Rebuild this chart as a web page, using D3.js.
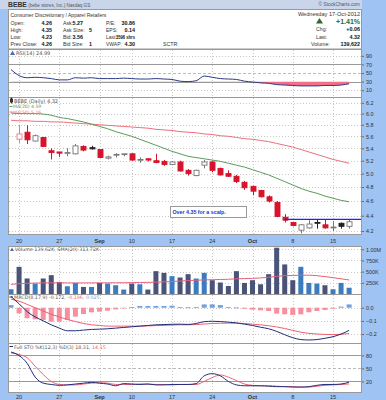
<!DOCTYPE html>
<html><head><meta charset="utf-8">
<script src="https://cdn.jsdelivr.net/npm/d3@7"></script>
<style>
body{margin:0;background:#9fc3f2}
svg{display:block;font-family:"Liberation Sans",Arial,sans-serif}
.lg{font-family:"DejaVu Sans",Verdana,sans-serif}
</style>
</head><body>
<script>
// BEBE daily, 17-Aug-2012 .. 17-Oct-2012 (first day is off the top of the price panel)
var open  = [6.45, 5.55,5.67,5.52,5.58,5.36,5.34,5.32,5.31,5.43,5.41, 5.38,5.24,5.29,5.31,5.31,5.21,5.23,5.20,5.19,5.14, 5.18,5.05,4.97,5.13,5.18,5.08,5.00,4.96,4.87,4.81, 4.75,4.66,4.58,4.38,4.31,4.21,4.24,4.31,4.28,4.24, 4.30,4.26];
var high  = [6.60, 5.80,5.79,5.63,5.59,5.40,5.34,5.40,5.47,5.45,5.44, 5.38,5.28,5.32,5.31,5.32,5.25,5.24,5.31,5.21,5.19, 5.20,5.07,5.06,5.21,5.20,5.09,5.05,4.98,4.89,4.82, 4.76,4.68,4.60,4.42,4.31,4.29,4.34,4.35,4.35,4.33, 4.31,4.35];
var low   = [6.38, 5.49,5.47,5.51,5.42,5.22,5.26,5.27,5.30,5.35,5.38, 5.24,5.22,5.25,5.27,5.20,5.17,5.19,5.16,5.12,5.13, 5.03,4.97,4.96,5.08,5.02,4.97,4.95,4.86,4.76,4.68, 4.65,4.58,4.38,4.31,4.26,4.17,4.23,4.23,4.23,4.20, 4.23,4.23];
var close = [6.50, 5.64,5.54,5.61,5.43,5.33,5.32,5.33,5.44,5.37,5.39, 5.25,5.26,5.30,5.31,5.21,5.22,5.21,5.17,5.14,5.18, 5.04,5.00,5.05,5.18,5.05,4.98,4.96,4.88,4.79,4.74, 4.66,4.60,4.39,4.34,4.27,4.28,4.29,4.30,4.24,4.25, 4.26,4.32];
var ma20  = [6.01, 6.00,6.00,6.00,5.99,5.97,5.93,5.91,5.88,5.85,5.81, 5.77,5.73,5.68,5.64,5.60,5.55,5.50,5.45,5.40,5.35, 5.31,5.27,5.25,5.23,5.21,5.19,5.16,5.13,5.10,5.06, 5.02,4.98,4.93,4.88,4.83,4.78,4.74,4.71,4.67,4.64, 4.61,4.59];
var ma50  = [5.88, 5.87,5.87,5.86,5.86,5.85,5.85,5.84,5.83,5.82,5.81, 5.80,5.79,5.78,5.77,5.76,5.75,5.74,5.72,5.71,5.70, 5.68,5.67,5.66,5.64,5.63,5.61,5.60,5.58,5.56,5.55, 5.53,5.51,5.48,5.45,5.42,5.38,5.34,5.30,5.26,5.22, 5.19,5.16];
var volume = [106, 608,347,234,347,421,270,173,248,158,158, 248,234,196,99,234,218,99,511,473,399, 369,444,347,473,309,257,180,511,248,309, 218,444,1036,662,309,608,248,234,196,106, 248,140];
var volSma = [215, 230,240,245,248,250,250,248,248,248,248, 250,250,250,252,255,258,260,265,272,280, 290,300,308,315,320,325,330,340,345,350, 360,375,395,410,415,420,420,410,390,365, 340,314];
var rsi   = [58, 44,39,40,39,37,34,34,39,38,39, 37,37,37,38,37,36,36,37,36,35, 31,30,32,43,40,37,36,35,31,29, 27,26,23,22,21,20,20,20,21,21, 22,24.99];
var macd  = [0.085, 0.03,-0.03,-0.07,-0.10,-0.13,-0.155,-0.175,-0.175,-0.17,-0.165, -0.163,-0.16,-0.155,-0.15,-0.145,-0.14,-0.135,-0.13,-0.128,-0.126, -0.125,-0.127,-0.12,-0.106,-0.103,-0.105,-0.11,-0.115,-0.125,-0.135, -0.148,-0.16,-0.18,-0.205,-0.228,-0.242,-0.245,-0.242,-0.232,-0.22, -0.20,-0.172];
var signal = [0.065, 0.05,0.025,0.0,-0.025,-0.05,-0.07,-0.09,-0.105,-0.12,-0.13, -0.135,-0.14,-0.14,-0.14,-0.14,-0.14,-0.138,-0.136,-0.134,-0.132, -0.13,-0.13,-0.128,-0.124,-0.12,-0.118,-0.117,-0.118,-0.12,-0.125, -0.13,-0.137,-0.146,-0.158,-0.172,-0.186,-0.195,-0.20,-0.203,-0.204, -0.202,-0.196];
var hist  = [0.02, -0.043,-0.08,-0.088,-0.093,-0.106,-0.106,-0.093,-0.068,-0.048,-0.035, -0.03,-0.023,-0.013,-0.005,0.005,0.013,0.013,0.013,0.013,0.015, 0.005,0.003,0.005,0.025,0.025,0.02,0.005,0.002,-0.008,-0.015, -0.02,-0.025,-0.045,-0.05,-0.055,-0.05,-0.035,-0.025,-0.018,-0.008, 0.008,0.025];
var stoK  = [88, 80,62,30,16,13,11,12,14,16,18, 16,14,10,15,14,13,14,12,12,13, 13,13,15,33,38,33,20,12,10,10, 10,9,8,8,7,7,8,11,13,13, 14,18.31];
var stoD  = [86, 82,75,55,36,20,13,12,12,14,16, 17,16,13,13,13,14,14,13,13,12, 13,13,13,20,29,35,30,22,14,11, 10,10,9,8,8,7,7,9,11,12, 13,14.15];

var tickIdx = [0, 5, 10, 14, 19, 24, 29, 34, 39];
var tickLabels = ["20", "27", "Sep", "10", "17", "24", "Oct", "8", "15"];
var scalpLevel = 4.35;

var days = d3.range(-1, 42);
var L = 8, R = 362;
var x = d3.scaleLinear().domain([-1.375, 42.6]).range([L, R]);

var svg = d3.select('body').append('svg').attr('width', 386).attr('height', 400);
svg.append('rect').attr('width', 386).attr('height', 400).attr('fill', '#9fc3f2');
svg.append('rect').attr('width', R).attr('height', 9).attr('fill', '#c9d5ea');

var txt = '#333';
function label(g, px, py, s, o) {
  o = o || {};
  return g.append('text').attr('x', px).attr('y', py).text(s)
    .attr('class', o.cls || null)
    .attr('font-size', o.size || 5.4).attr('fill', o.fill || txt)
    .attr('font-weight', o.bold ? 'bold' : null)
    .attr('text-anchor', o.anchor || null);
}

// title bar + header box
var t = svg.append('text').attr('x', 8).attr('y', 7).attr('fill', '#333');
t.append('tspan').text('BEBE').attr('font-weight', 'bold').attr('font-size', 6.8);
t.append('tspan').text(' (bebe stores, Inc.) Nasdaq GS').attr('font-size', 4.6).attr('fill', '#555');
label(svg, 360, 6.3, '© StockCharts.com', {anchor: 'end', size: 4.8, fill: '#556'});

svg.append('rect').attr('x', L + 0.5).attr('y', 9.5).attr('width', R - L - 1).attr('height', 39.5)
  .attr('fill', '#fff').attr('stroke', '#999');
label(svg, 10.5, 16.5, 'Consumer Discretionary / Apparel Retailers', {size: 5.0});
var hdr = [
  ['Open:', '4.26', 'Ask:', '5.27', 72.5, 'P/E:', '30.86'],
  ['High:', '4.35', 'Ask Size:', '5', 89, 'EPS:', '0.14'],
  ['Low:', '4.23', 'Bid:', '3.56', 72.5, 'Last:', '3596 shrs'],
  ['Prev Close:', '4.26', 'Bid Size:', '1', 89, 'VWAP:', '4.30']
];
hdr.forEach(function(r, i) {
  var yy = 24.5 + i * 7.3;
  label(svg, 10.5, yy, r[0], {size: 5.2});
  label(svg, 52, yy, r[1], {size: 5.4, bold: true, anchor: 'end', fill: '#111'});
  label(svg, 63, yy, r[2], {size: 5.2});
  label(svg, r[4], yy, r[3], {size: 5.4, bold: true, fill: '#111'});
  label(svg, 106, yy, r[5], {size: 5.0});
  var v = label(svg, 135, yy, r[6], {size: 5.4, bold: true, anchor: 'end', fill: '#111'});
  if (r[6].length > 6) v.attr('textLength', 19).attr('lengthAdjust', 'spacingAndGlyphs');
});
label(svg, 163, 24.5 + 3 * 7.3, 'SCTR:', {size: 5.2});
label(svg, 360, 15.5, 'Wednesday  17-Oct-2012', {size: 5.6, anchor: 'end'});
svg.append('path').attr('d', 'M316,23.5 L319.5,18 L323,23.5 Z').attr('fill', '#2b6e2b');
label(svg, 360, 23.5, '+1.41%', {size: 7, bold: true, anchor: 'end', fill: '#2b6e2b'});
label(svg, 316, 31, 'Chg:', {size: 5.2});
label(svg, 360, 31, '+0.06', {size: 5.4, bold: true, anchor: 'end', fill: '#111'});
label(svg, 316, 38.5, 'Last:', {size: 5.2});
label(svg, 360, 38.5, '4.32', {size: 5.4, bold: true, anchor: 'end', fill: '#111'});
label(svg, 311, 46, 'Volume:', {size: 5.2});
label(svg, 360, 46, '139,622', {size: 5.4, bold: true, anchor: 'end', fill: '#111'});

// panel helper
var clipN = 0;
function rightAxis(yScale, vals, fmt) {
  var ax = svg.append('g').attr('transform', 'translate(' + R + ',0)')
    .call(d3.axisRight(yScale).tickValues(vals).tickSize(2).tickPadding(2).tickFormat(fmt));
  ax.attr('font-size', 5.4).attr('font-family', null);
  ax.select('.domain').remove();
  ax.selectAll('line').attr('stroke', '#666');
  ax.selectAll('text').attr('fill', '#333');
}
function panel(y0, y1, yScale, gridVals, fmt) {
  var g = svg.append('g');
  g.append('rect').attr('x', L + 0.5).attr('y', y0 + 0.5).attr('width', R - L - 1).attr('height', y1 - y0)
    .attr('fill', '#fff').attr('stroke', '#999');
  var id = 'c' + (clipN++);
  svg.append('clipPath').attr('id', id).append('rect')
    .attr('x', L + 1).attr('y', y0 + 1).attr('width', R - L - 2).attr('height', y1 - y0 - 1);
  tickIdx.forEach(function(d) {
    var xx = Math.round(x(d)) + 0.5;
    g.append('line').attr('x1', xx).attr('x2', xx).attr('y1', y0 + 1).attr('y2', y1)
      .attr('stroke', '#c8c8c8').attr('stroke-dasharray', '1,2');
  });
  gridVals.forEach(function(v) {
    var yy = Math.round(yScale(v)) + 0.5;
    g.append('line').attr('x1', L + 1).attr('x2', R - 1).attr('y1', yy).attr('y2', yy)
      .attr('stroke', '#c8c8c8').attr('stroke-dasharray', '1,2');
  });
  rightAxis(yScale, gridVals, fmt);
  return g.append('g').attr('clip-path', 'url(#' + id + ')');
}
function refLine(g, yScale, v, dash, col) {
  var yy = Math.round(yScale(v)) + 0.5;
  g.append('line').attr('x1', L).attr('x2', R).attr('y1', yy).attr('y2', yy)
    .attr('stroke', col || '#999').attr('stroke-width', 1).attr('stroke-dasharray', dash || null);
}
function seriesLine(g, yScale, arr, col, w) {
  g.append('path').datum(days)
    .attr('d', d3.line().x(function(d) { return x(d); }).y(function(d, i) { return yScale(arr[i]); }).curve(d3.curveMonotoneX))
    .attr('fill', 'none').attr('stroke', col).attr('stroke-width', w || 1);
}

// RSI panel
var yR = d3.scaleLinear().domain([-5.8, 105.8]).range([97, 49]);
var gR = panel(49, 97, yR, [90, 10], d3.format('d'));
refLine(gR, yR, 70); refLine(gR, yR, 30); refLine(gR, yR, 50, '3,2', '#bbb');
rightAxis(yR, [70, 50, 30], d3.format('d'));
gR.append('clipPath').attr('id', 'below30').append('rect').attr('x', L).attr('width', R - L)
  .attr('y', yR(30)).attr('height', 97 - yR(30));
gR.append('path').datum(days)
  .attr('d', d3.area().x(function(d) { return x(d); }).y0(yR(30)).y1(function(d, i) { return yR(rsi[i]); }).curve(d3.curveMonotoneX))
  .attr('fill', '#f0708a').attr('clip-path', 'url(#below30)');
seriesLine(gR, yR, rsi, '#2c3b84', 1);
svg.append('path').attr('d', 'M10,55 L12.5,50.5 L15,55 Z').attr('fill', '#4a6fb8');
label(svg, 16, 55, 'RSI(14) 24.99', {size: 5.0, fill: '#555', cls: 'lg'});

// price panel
var yP = d3.scaleLog().domain([4.162, 6.31]).range([234, 97]);
var priceTicks = [6.2, 6.0, 5.8, 5.6, 5.4, 5.2, 5.0, 4.8, 4.6, 4.4, 4.2];
var gP = panel(97, 234, yP, priceTicks, d3.format('.1f'));
seriesLine(gP, yP, ma50, '#ec6f7c', 1);
seriesLine(gP, yP, ma20, '#5c9a5c', 1);
var red = '#d6142c', blk = '#222';
days.forEach(function(d, i) {
  var prev = i > 0 ? close[i - 1] : 6.6;
  var col = close[i] >= prev ? blk : red;
  var filled = close[i] < open[i];
  var edge = filled ? col : (col === red ? '#e37a86' : '#777');
  var cx = Math.round(x(d)) + 0.5;
  var top = yP(Math.max(open[i], close[i])), bot = yP(Math.min(open[i], close[i]));
  gP.append('line').attr('x1', cx).attr('x2', cx).attr('y1', yP(high[i])).attr('y2', yP(low[i]))
    .attr('stroke', edge);
  gP.append('rect').attr('x', cx - 2.5).attr('y', top).attr('width', 5).attr('height', Math.max(bot - top, 0.8))
    .attr('fill', filled ? col : '#fff').attr('stroke', edge).attr('stroke-width', 0.9);
});
gP.append('line').attr('x1', x(33)).attr('x2', R).attr('y1', yP(scalpLevel)).attr('y2', yP(scalpLevel))
  .attr('stroke', '#2222ff').attr('stroke-width', 1.2);
gP.append('rect').attr('x', 170.5).attr('y', 206.5).attr('width', 76).attr('height', 11)
  .attr('fill', '#fff').attr('stroke', '#999');
label(gP, 172.5, 214, 'Over 4.35 for a scalp.', {size: 5.3, fill: '#2233cc', bold: true});
// price legend
svg.append('rect').attr('x', 10).attr('y', 98.5).attr('width', 3).attr('height', 4).attr('fill', '#333');
svg.append('line').attr('x1', 11.5).attr('x2', 11.5).attr('y1', 97.5).attr('y2', 103.5).attr('stroke', '#333');
label(svg, 14, 103, 'BEBE (Daily) 4.32', {size: 5.0, fill: '#555', cls: 'lg'});
svg.append('line').attr('x1', 9.5).attr('x2', 12.5).attr('y1', 106.5).attr('y2', 106.5).attr('stroke', '#5c9a5c');
label(svg, 13, 108.3, 'MA(20) 4.59', {size: 4.6, fill: '#5c9a5c', cls: 'lg'});
svg.append('line').attr('x1', 9.5).attr('x2', 12.5).attr('y1', 112).attr('y2', 112).attr('stroke', '#ec6f7c');
label(svg, 13, 113.8, 'MA(50) 5.16', {size: 4.6, fill: '#ec6f7c', cls: 'lg'});

// date axis
function dateAxis(yy) {
  tickIdx.forEach(function(d, k) {
    var b = tickLabels[k] === 'Sep' || tickLabels[k] === 'Oct';
    label(svg, x(d), yy, tickLabels[k], {size: 5.6, anchor: 'middle', bold: b, fill: '#333'});
  });
}
dateAxis(242.5);
dateAxis(398.5);

// volume panel
var yV = d3.scaleLinear().domain([0, 1074]).range([294, 246]);
var gV = panel(246, 294, yV, [1000, 750, 500, 250], function(v) { return v >= 1000 ? '1.00M' : v + 'K'; });
days.forEach(function(d, i) {
  var up = i === 0 || close[i] > close[i - 1];
  gV.append('rect').attr('x', x(d) - 2.5).attr('y', yV(volume[i])).attr('width', 5)
    .attr('height', yV(0) - yV(volume[i])).attr('fill', up ? '#3b7cc0' : '#4a5478');
});
seriesLine(gV, yV, volSma, '#e8607a', 1);
svg.append('path').attr('d', 'M10,251 L12,247.5 L14,251 Z').attr('fill', '#4a6fb8');
label(svg, 15, 251, 'Volume 139.62K, SMA(20) 313.72K', {size: 4.8, fill: '#555', cls: 'lg'});

// MACD panel
var yM = d3.scaleLinear().domain([-0.268, 0.104]).range([343, 294]);
var gM = panel(294, 343, yM, [0, -0.1, -0.2], d3.format('.1f'));
days.forEach(function(d, i) {
  var v = hist[i];
  gM.append('rect').attr('x', x(d) - 2.5).attr('y', yM(Math.max(v, 0))).attr('width', 5)
    .attr('height', Math.max(Math.abs(yM(v) - yM(0)), 0.8)).attr('fill', v >= 0 ? '#6f9fe0' : '#f7909e');
});
seriesLine(gM, yM, signal, '#f0606f', 1);
seriesLine(gM, yM, macd, '#1f2e78', 1);
svg.append('line').attr('x1', 9.5).attr('x2', 13).attr('y1', 297).attr('y2', 297).attr('stroke', '#1f2e78');
var lm = svg.append('text').attr('class', 'lg').attr('x', 14).attr('y', 299).attr('font-size', 4.8);
lm.append('tspan').text('MACD(8,17,9) -0.172, ').attr('fill', '#555');
lm.append('tspan').text('-0.196, ').attr('fill', '#f0606f');
lm.append('tspan').text('0.025').attr('fill', '#6f9fe0');

// Full stochastics panel
var yS = d3.scaleLinear().domain([-4.4, 108.8]).range([392, 343]);
var gS = panel(343, 392, yS, [], d3.format('d'));
refLine(gS, yS, 80); refLine(gS, yS, 20); refLine(gS, yS, 50, '3,2', '#bbb');
rightAxis(yS, [80, 50, 20], d3.format('d'));
seriesLine(gS, yS, stoD, '#f0606f', 1);
seriesLine(gS, yS, stoK, '#1f2e78', 1);
svg.append('line').attr('x1', 9.5).attr('x2', 13).attr('y1', 346.5).attr('y2', 346.5).attr('stroke', '#1f2e78');
var ls = svg.append('text').attr('class', 'lg').attr('x', 14).attr('y', 348.5).attr('font-size', 4.8);
ls.append('tspan').text('Full STO %K(12,3) %D(3) 18.31, ').attr('fill', '#555');
ls.append('tspan').text('14.15').attr('fill', '#f0606f');
</script>
</body></html>
